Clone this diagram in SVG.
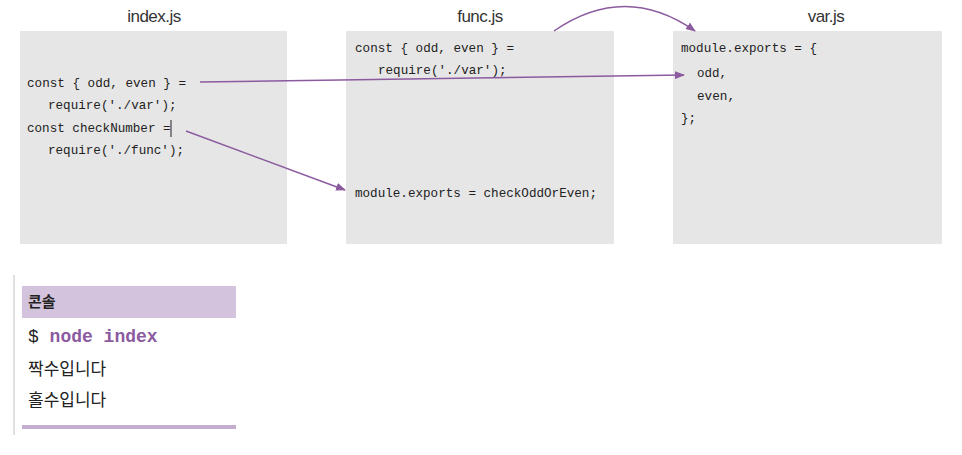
<svg xmlns="http://www.w3.org/2000/svg" width="962" height="455" viewBox="0 0 962 455">
<style>
.title{font-family:"Liberation Sans",Arial,sans-serif;font-size:17px;fill:#333;text-anchor:middle;letter-spacing:-0.5px}
.code{font-family:"Liberation Mono","DejaVu Sans Mono",monospace;font-size:13.4px;fill:#222}
.box{fill:#e6e6e6}
.conn{stroke:#8b5a9f;stroke-width:1.5;fill:none}
.kr{font-family:"Noto Sans CJK KR","Noto Sans",sans-serif;font-size:17px;fill:#222}
</style>
<defs>
<marker id="ah" markerWidth="10" markerHeight="8" refX="9" refY="4" orient="auto" markerUnits="userSpaceOnUse">
<path d="M0,0 L10,4 L0,8 Z" fill="#8b5a9f"/>
</marker>
</defs>
<rect width="962" height="455" fill="#ffffff"/>
<g id="index">
<text class="title" x="154" y="22">index.js</text>
<rect class="box" x="20" y="31" width="267" height="213"/>
<text class="code" x="27" y="87" textLength="159" lengthAdjust="spacingAndGlyphs">const { odd, even } =</text>
<text class="code" x="48" y="109" textLength="128.5" lengthAdjust="spacingAndGlyphs">require('./var');</text>
<text class="code" x="27" y="132" textLength="143.6" lengthAdjust="spacingAndGlyphs">const checkNumber =</text>
<text class="code" x="48" y="154" textLength="136" lengthAdjust="spacingAndGlyphs">require('./func');</text>
<line x1="171" y1="120" x2="171" y2="137" stroke="#222" stroke-width="1"/>
</g>
<g id="func">
<text class="title" x="480" y="22">func.js</text>
<rect class="box" x="346" y="31" width="268" height="213"/>
<text class="code" x="355" y="52" textLength="159" lengthAdjust="spacingAndGlyphs">const { odd, even } =</text>
<text class="code" x="378" y="74" textLength="128.5" lengthAdjust="spacingAndGlyphs">require('./var');</text>
<text class="code" x="355" y="197" textLength="242" lengthAdjust="spacingAndGlyphs">module.exports = checkOddOrEven;</text>
</g>
<g id="var">
<text class="title" x="826" y="22">var.js</text>
<rect class="box" x="673" y="31" width="269" height="213"/>
<text class="code" x="681" y="52" textLength="136" lengthAdjust="spacingAndGlyphs">module.exports = {</text>
<text class="code" x="697" y="77" textLength="30" lengthAdjust="spacingAndGlyphs">odd,</text>
<text class="code" x="697" y="100" textLength="38" lengthAdjust="spacingAndGlyphs">even,</text>
<text class="code" x="681" y="122" textLength="15" lengthAdjust="spacingAndGlyphs">};</text>
</g>
<g id="connectors">
<path class="conn" d="M200,82 L684,75" marker-end="url(#ah)"/>
<path class="conn" d="M186,131 L345,190" marker-end="url(#ah)"/>
<path class="conn" d="M554,31 Q625,-18 695,31" marker-end="url(#ah)"/>
</g>
<g id="console">
<line x1="14" y1="275" x2="14" y2="435" stroke="#e0e0e0" stroke-width="2"/>
<rect x="22" y="286" width="214" height="32" fill="#d3c3dc"/>
<text class="kr" x="28" y="307" font-weight="bold" style="font-size:15px">콘솔</text>
<text x="28" y="342" style="font-family:'Liberation Mono','DejaVu Sans Mono',monospace;font-size:18px;font-weight:bold"><tspan fill="#222" font-weight="normal">$ </tspan><tspan fill="#8b5a9f">node index</tspan></text>
<text class="kr" x="28" y="375">짝수입니다</text>
<text class="kr" x="28" y="406">홀수입니다</text>
<rect x="22" y="425" width="214" height="4" fill="#c4aed0"/>
</g>
</svg>
